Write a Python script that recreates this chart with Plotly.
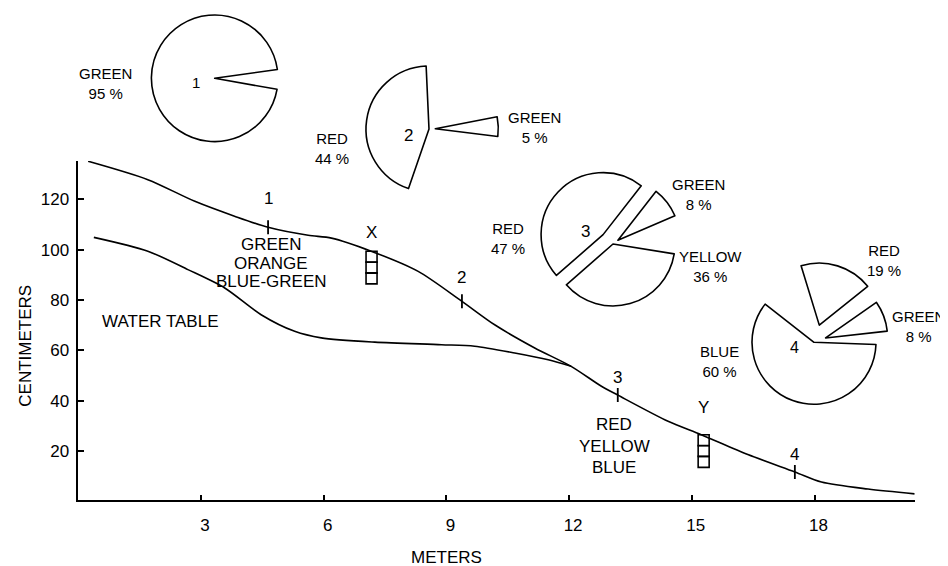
import plotly.graph_objects as go

W, H = 948, 566

# ---------------- data ----------------
# Ground surface profile (METERS vs CENTIMETERS)
ground_x = [0.24, 1.70, 2.85, 3.82, 4.64, 5.62, 6.19, 7.16, 8.31, 9.38, 10.18,
            11.16, 12.05, 12.79, 13.19, 14.42, 15.23, 16.37, 17.52, 18.17, 19.31, 20.45]
ground_y = [135.1, 127.8, 119.2, 113.3, 108.9, 105.7, 104.6, 99.4, 91.4, 79.5, 70.2,
            61.0, 53.7, 45.8, 42.3, 31.9, 26.6, 18.7, 11.8, 7.8, 5.0, 3.1]

# Water table profile
water_x = [0.38, 1.70, 2.68, 3.58, 4.47, 5.29, 5.94, 7.25, 8.88, 9.69, 10.67, 11.49, 12.05]
water_y = [104.9, 99.4, 92.1, 84.8, 74.2, 67.6, 65.0, 63.3, 62.3, 61.7, 59.0, 56.3, 53.7]

# Sampling stations on the surface
station_ids = ["1", "2", "3", "4"]
station_x = [4.64, 9.38, 13.19, 17.52]
station_y = [108.9, 79.5, 42.3, 11.8]
station_label_y = [120.5, 88.8, 49.4, 18.7]

# Cores X and Y (stacked sample boxes)
core_ids = ["X", "Y"]
core_x = [7.17, 15.29]
core_label_y = [107.0, 37.5]
core_box_y = [[97.2, 92.9, 88.6], [24.4, 20.1, 15.8]]

# Zone colour lists written along the profile
zone1_lines = ["GREEN", "ORANGE", "BLUE-GREEN"]
zone1_x = 4.72
zone1_y = [102.0, 94.7, 87.5]
zone2_lines = ["RED", "YELLOW", "BLUE"]
zone2_x = 13.10
zone2_y = [30.6, 22.0, 13.4]

x_ticks = [3, 6, 9, 12, 15, 18]
y_ticks = [20, 40, 60, 80, 100, 120]

# Pie compositions (percent); "none" parts are the unfilled remainder
pie1_labels = ["GREEN", "none"]
pie1_values = [95, 5]
pie1_pull = [0, 0]

pie2_labels = ["GREEN", "none a", "RED", "none b"]
pie2_values = [5, 28.33, 44, 22.67]
pie2_pull = [0.1, 0, 0, 0]

pie3_labels = ["GREEN", "none", "YELLOW", "RED"]
pie3_values = [8, 9, 36, 47]
pie3_pull = [0.1, 0, 0, 0.22]

pie4_labels = ["BLUE", "none a", "RED", "none b", "GREEN", "none c"]
pie4_values = [60, 9.7, 19, 1, 8, 2.3]
pie4_pull = [0, 0, 0.29, 0, 0.2, 0]

FONT = "Liberation Sans, Arial, sans-serif"


def paper(px, py):
    return px / W, 1 - py / H


def pie_domain(cx, cy, r, pull):
    half = r * (1 + pull)
    return dict(x=[(cx - half) / W, (cx + half) / W],
                y=[1 - (cy + half) / H, 1 - (cy - half) / H])


def make_pie(labels, values, pulls, center, r, rotation):
    real = [not lab.startswith("none") for lab in labels]
    return go.Pie(
        labels=labels, values=values, sort=False, direction="clockwise",
        rotation=rotation, pull=pulls,
        domain=pie_domain(center[0], center[1], r, max(pulls)),
        marker=dict(colors=["white" if k else "rgba(0,0,0,0)" for k in real],
                    line=dict(color=["black" if k else "rgba(0,0,0,0)" for k in real],
                              width=[1.6 if k else 0 for k in real])),
        textinfo="none", hoverinfo="skip", showlegend=False)


fig = go.Figure()

line_style = dict(color="black", width=1.6, shape="spline", smoothing=0.8)
fig.add_trace(go.Scatter(x=ground_x, y=ground_y, mode="lines", line=line_style,
                         hoverinfo="skip", showlegend=False))
fig.add_trace(go.Scatter(x=water_x, y=water_y, mode="lines", line=line_style,
                         hoverinfo="skip", showlegend=False))

# station tick marks
fig.add_trace(go.Scatter(x=station_x, y=station_y, mode="markers",
                         marker=dict(symbol="line-ns", size=10,
                                     line=dict(color="black", width=1.8)),
                         hoverinfo="skip", showlegend=False))

# core boxes
for cx, boxes in zip(core_x, core_box_y):
    fig.add_trace(go.Scatter(x=[cx] * len(boxes), y=boxes, mode="markers",
                             marker=dict(symbol="square-open", size=11, color="black",
                                         line=dict(color="black", width=1.6)),
                             hoverinfo="skip", showlegend=False))

# pies
fig.add_trace(make_pie(pie1_labels, pie1_values, pie1_pull, (206.7, 70.3), 63.3, 100))
fig.add_trace(make_pie(pie2_labels, pie2_values, pie2_pull, (421.0, 121.0), 63.0, 79))
fig.add_trace(make_pie(pie3_labels, pie3_values, pie3_pull, (605.0, 236.0), 62.0, 38))
fig.add_trace(make_pie(pie4_labels, pie4_values, pie4_pull, (806.0, 334.3), 62.0, 92))

annotations = []


def data_text(text, x, y, size=17, xanchor="center"):
    annotations.append(dict(text=text, x=x, y=y, xref="x", yref="y", showarrow=False,
                            xanchor=xanchor, yanchor="middle",
                            font=dict(size=size, color="black", family=FONT)))


def px_text(text, px, py, size=15, xanchor="center", angle=0):
    x, y = paper(px, py)
    annotations.append(dict(text=text, x=x, y=y, xref="paper", yref="paper",
                            showarrow=False, xanchor=xanchor, yanchor="middle",
                            textangle=angle, align="center",
                            font=dict(size=size, color="black", family=FONT)))


for sid, sx, sy in zip(station_ids, station_x, station_label_y):
    data_text(sid, sx, sy)
for cid, cx, cy in zip(core_ids, core_x, core_label_y):
    data_text(cid, cx, cy)
for t, y in zip(zone1_lines, zone1_y):
    data_text(t, zone1_x, y)
for t, y in zip(zone2_lines, zone2_y):
    data_text(t, zone2_x, y)
data_text("WATER TABLE", 0.52, 71.6, xanchor="left")

# pie labels (name + percentage)
px_text("GREEN<br>95 %", 97, 75)
px_text("1", 188.3, 74, size=15)

px_text("RED<br>44 %", 323.5, 140)
px_text("GREEN<br>5 %", 526, 119.5)
px_text("2", 400, 127, size=17)

px_text("RED<br>47 %", 499.5, 230)
px_text("GREEN<br>8 %", 690.5, 186.5)
px_text("YELLOW<br>36 %", 702, 258.3)
px_text("3", 577.5, 224, size=17)

px_text("RED<br>19 %", 876.3, 252.2)
px_text("GREEN<br>8 %", 910, 318.3)
px_text("BLUE<br>60 %", 711.4, 353)
px_text("4", 786, 339, size=16)

# axis titles
px_text("CENTIMETERS", 16.7, 338, size=17, angle=-90)
px_text("METERS", 438, 549, size=17)

axis_common = dict(showline=True, linecolor="black", linewidth=1.6, ticks="inside",
                   ticklen=6, tickwidth=1.6, tickcolor="black", showgrid=False,
                   zeroline=False, automargin=False,
                   tickfont=dict(size=17, color="black", family=FONT))

fig.update_layout(
    width=W, height=H, template="none",
    margin=dict(l=0, r=0, t=0, b=0, pad=0),
    paper_bgcolor="white", plot_bgcolor="white",
    font=dict(family=FONT, color="black"),
    xaxis=dict(domain=[70.3 / W, 906.7 / W], range=[0, 20.45], tickvals=x_ticks,
               ticklabelstandoff=8, ticklabelshift=4, anchor="y", **axis_common),
    yaxis=dict(domain=[1 - 492.4 / H, 1 - 153.0 / H], range=[0.5, 135.2],
               tickvals=y_ticks, ticklabelstandoff=4, anchor="x", **axis_common),
    annotations=annotations,
    showlegend=False,
)

fig.write_html("out.html")
